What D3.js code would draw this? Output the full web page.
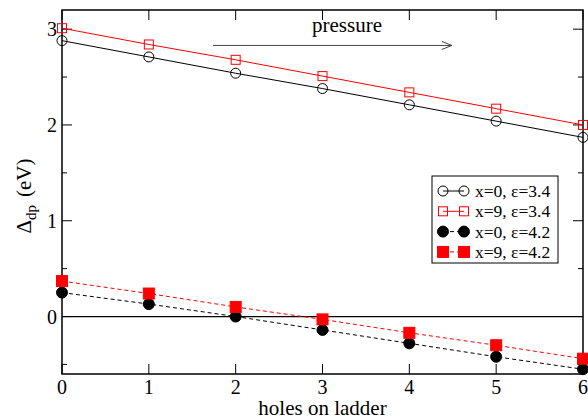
<!DOCTYPE html>
<html>
<head>
<meta charset="utf-8">
<script src="https://cdn.jsdelivr.net/npm/d3@7"></script>
<style>
  body { margin: 0; background: #fff; }
  text { font-family: "Liberation Serif", "Times New Roman", serif; }
</style>
</head>
<body>
<div id="chart"></div>
<script>

// ======================= //
// DATA
// ======================= //

var holes = [0, 1, 2, 3, 4, 5, 6]
var x0_e34 = [2.88, 2.71, 2.54, 2.38, 2.21, 2.04, 1.87]
var x9_e34 = [3.01, 2.84, 2.68, 2.51, 2.34, 2.17, 2.00]
var x0_e42 = [0.25, 0.13, 0.00, -0.14, -0.28, -0.42, -0.55]
var x9_e42 = [0.37, 0.24, 0.10, -0.03, -0.17, -0.30, -0.44]
var seriesNames = ["x=0, ε=3.4", "x=9, ε=3.4", "x=0, ε=4.2", "x=9, ε=4.2"]
var xTicks = [0, 1, 2, 3, 4, 5, 6]
var yTicks = [0, 1, 2, 3]
var yMinor = [-0.5, 0.5, 1.5, 2.5]
var arrowFrom = [1.74, 2.83], arrowTo = [4.49, 2.83]

var series = [
  {name: seriesNames[0], vals: x0_e34, color: "black", shape: "circle", filled: false, dash: null},
  {name: seriesNames[1], vals: x9_e34, color: "red", shape: "square", filled: false, dash: null},
  {name: seriesNames[2], vals: x0_e42, color: "black", shape: "circle", filled: true, dash: "4,3"},
  {name: seriesNames[3], vals: x9_e42, color: "red", shape: "square", filled: true, dash: "4,3"}
]

// ======================= //
// SVG AND SCALES
// ======================= //

var margin = {top: 10, right: 5, bottom: 46, left: 62},
    width = 588 - margin.left - margin.right,
    height = 420 - margin.top - margin.bottom;

var svg = d3.select("#chart")
  .append("svg")
    .attr("width", 588)
    .attr("height", 420)
  .append("g")
    .attr("transform", "translate(" + margin.left + "," + margin.top + ")");

var x = d3.scaleLinear().domain([0, 6]).range([0, width])
var y = d3.scaleLinear().domain([-0.6, 3.2]).range([height, 0])

// frame
svg.append("rect")
  .attr("width", width).attr("height", height)
  .attr("fill", "none").attr("stroke", "black").attr("stroke-width", 1.5)

// zero line
svg.append("line")
  .attr("x1", 0).attr("x2", width)
  .attr("y1", y(0)).attr("y2", y(0))
  .attr("stroke", "black").attr("stroke-width", 1.3)

// ticks, all pointing inward, mirrored on the other side
function tickLines(vals, len, horizontal) {
  vals.forEach(function(v){
    if (horizontal) {
      svg.append("line").attr("x1", x(v)).attr("x2", x(v)).attr("y1", height).attr("y2", height - len)
        .attr("stroke", "black")
      svg.append("line").attr("x1", x(v)).attr("x2", x(v)).attr("y1", 0).attr("y2", len)
        .attr("stroke", "black")
    } else {
      svg.append("line").attr("x1", 0).attr("x2", len).attr("y1", y(v)).attr("y2", y(v))
        .attr("stroke", "black")
      svg.append("line").attr("x1", width).attr("x2", width - len).attr("y1", y(v)).attr("y2", y(v))
        .attr("stroke", "black")
    }
  })
}
tickLines(xTicks, 10, true)
tickLines(yTicks, 10, false)
tickLines(yMinor, 5, false)

// tick labels
svg.selectAll("xlab").data(xTicks).enter().append("text")
  .attr("x", function(d){ return x(d) })
  .attr("y", height + 20)
  .attr("text-anchor", "middle")
  .style("font-size", "20px")
  .text(function(d){ return d })

svg.selectAll("ylab").data(yTicks).enter().append("text")
  .attr("x", -5)
  .attr("y", function(d){ return y(d) + 7 })
  .attr("text-anchor", "end")
  .style("font-size", "20px")
  .text(function(d){ return d })

// axis titles
svg.append("text")
  .attr("x", width / 2)
  .attr("y", height + 41)
  .attr("text-anchor", "middle")
  .style("font-size", "21px")
  .text("holes on ladder")

var yt = svg.append("text")
  .attr("transform", "translate(-31," + (196 - margin.top) + ") rotate(-90)")
  .attr("text-anchor", "middle")
  .style("font-size", "21px")
yt.append("tspan").text("Δ")
yt.append("tspan").attr("dy", 5).style("font-size", "15px").text("dp")
yt.append("tspan").attr("dy", -5).attr("dx", 8).text("(eV)")

// ======================= //
// LINES AND MARKERS
// ======================= //

function drawMarker(g, cx, cy, s) {
  if (s.shape == "circle") {
    g.append("circle").attr("cx", cx).attr("cy", cy).attr("r", s.filled ? 5.5 : 5)
      .attr("fill", s.filled ? s.color : "none").attr("stroke", s.color).attr("stroke-width", 1)
  } else {
    var h = s.filled ? 5.5 : 4.5
    g.append("rect").attr("x", cx - h).attr("y", cy - h).attr("width", 2 * h).attr("height", 2 * h)
      .attr("fill", s.filled ? s.color : "none").attr("stroke", s.color).attr("stroke-width", 1)
  }
}

var line = d3.line()
  .x(function(d, i){ return x(holes[i]) })
  .y(function(d){ return y(d) })

series.forEach(function(s){
  svg.append("path")
    .attr("d", line(s.vals))
    .attr("fill", "none")
    .attr("stroke", s.color)
    .attr("stroke-width", 1)
    .attr("stroke-dasharray", s.dash)
  var g = svg.append("g")
  s.vals.forEach(function(v, i){ drawMarker(g, x(holes[i]), y(v), s) })
})

// ======================= //
// ANNOTATION
// ======================= //

svg.append("line")
  .attr("x1", x(arrowFrom[0])).attr("x2", x(arrowTo[0]))
  .attr("y1", y(arrowFrom[1])).attr("y2", y(arrowTo[1]))
  .attr("stroke", "#444").attr("stroke-width", 1)
svg.append("path")
  .attr("d", "M" + (x(arrowTo[0]) - 10) + "," + (y(arrowTo[1]) - 4) + " L" + x(arrowTo[0]) + "," + y(arrowTo[1]) +
             " L" + (x(arrowTo[0]) - 10) + "," + (y(arrowTo[1]) + 4))
  .attr("fill", "none").attr("stroke", "#444").attr("stroke-width", 1)
svg.append("text")
  .attr("x", 347 - margin.left)
  .attr("y", 22)
  .attr("text-anchor", "middle")
  .style("font-size", "21px")
  .text("pressure")

// ======================= //
// LEGEND
// ======================= //

var lg = svg.append("g").attr("transform", "translate(" + (432 - margin.left) + "," + (176 - margin.top) + ")")
lg.append("rect").attr("width", 126).attr("height", 87)
  .attr("fill", "white").attr("stroke", "black").attr("stroke-width", 1)
series.forEach(function(s, i){
  var yy = 15 + i * 20.3
  lg.append("line").attr("x1", 11).attr("x2", 32).attr("y1", yy).attr("y2", yy)
    .attr("stroke", s.color).attr("stroke-dasharray", s.dash)
  drawMarker(lg, 11, yy, s)
  drawMarker(lg, 32, yy, s)
  lg.append("text").attr("x", 43).attr("y", yy + 6)
    .style("font-size", "17.5px")
    .text(s.name)
})

</script>
</body>
</html>
